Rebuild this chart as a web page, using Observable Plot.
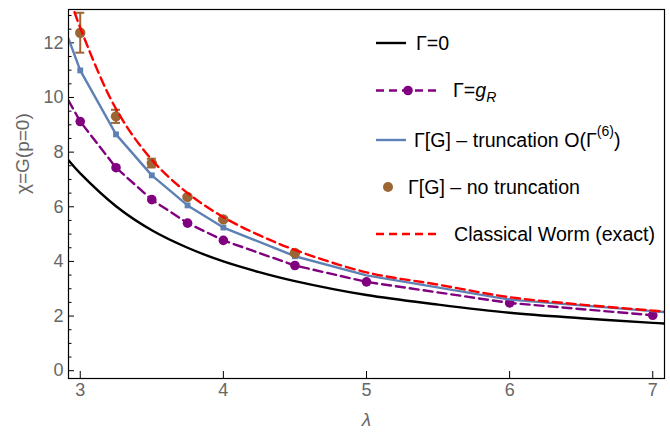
<!DOCTYPE html>
<html><head><meta charset="utf-8">
<script src="https://cdn.jsdelivr.net/npm/d3@7"></script>
<script src="https://cdn.jsdelivr.net/npm/@observablehq/plot@0.6"></script>
<style>
body{margin:0;background:#fff;}
#chart{width:670px;height:439px;}
</style>
</head><body><div id="chart"></div>
<script>
// Γ=0 (black solid)
const lamZero = [2.918, 3, 3.25, 3.5, 3.75, 4, 4.25, 4.5, 5, 5.5, 6, 6.5, 7, 7.082];
const chiZero = [7.70, 7.22, 6.02, 5.14, 4.50, 4.00, 3.61, 3.28, 2.77, 2.42, 2.12, 1.92, 1.75, 1.73];
// Γ=g_R (purple dashed, dots)
const lamGR = [2.918, 3, 3.25, 3.5, 3.75, 4, 4.5, 5, 6, 7];
const chiGR = [9.89, 9.12, 7.43, 6.26, 5.40, 4.77, 3.85, 3.25, 2.48, 2.03];
// Γ[G] truncation O(Γ^(6)) (blue)
const lamTrunc = [2.918, 3, 3.25, 3.5, 3.75, 4, 4.5, 5, 6, 7, 7.082];
const chiTrunc = [12.15, 10.99, 8.65, 7.15, 6.05, 5.24, 4.19, 3.49, 2.60, 2.18, 2.15];
const lamTruncMarks = [3, 3.25, 3.5, 3.75, 4, 4.5];
// Γ[G] no truncation (brown, with error bars)
const lamFull = [3, 3.25, 3.5, 3.75, 4, 4.5];
const chiFull = [12.37, 9.31, 7.60, 6.36, 5.54, 4.31];
const errFull = [0.73, 0.24, 0.16, 0.05, 0.05, 0.04];
// Classical worm (exact) (red dashed)
const lamWorm = [2.93, 3, 3.25, 3.5, 3.75, 4, 4.25, 4.5, 5, 5.5, 6, 6.5, 7, 7.082];
const chiWorm = [13.6, 12.55, 9.58, 7.72, 6.50, 5.62, 4.96, 4.42, 3.60, 3.15, 2.69, 2.42, 2.20, 2.16];

const xTicks = [3, 4, 5, 6, 7];
const yTicks = [0, 2, 4, 6, 8, 10, 12];
const yMinor = d3.range(0, 13.01, 0.5).filter(v => v % 2 !== 0);

const legendLabels = ["Γ=0", "Γ=g_R", "Γ[G] – truncation O(Γ^(6))", "Γ[G] – no truncation", "Classical Worm (exact)"];

const BLACK = "#000000", PURPLE = "#800080", BLUE = "#5E81B5", BROWN = "#9C6634", RED = "#FF0000", GRAY = "#666666";

const zip = (xs, ys) => xs.map((x, i) => ({x, y: ys[i]}));
const zero = zip(lamZero, chiZero);
const gr = zip(lamGR, chiGR);
const grDots = gr.slice(1);
const trunc = zip(lamTrunc, chiTrunc);
const truncMarks = trunc.filter(d => lamTruncMarks.includes(d.x));
const full = lamFull.map((x, i) => ({x, y: chiFull[i], lo: chiFull[i] - errFull[i], hi: chiFull[i] + errFull[i]}));
const worm = zip(lamWorm, chiWorm);

const W = 670, H = 439, mL = 68, mR = 6, mT = 9, mB = 61;
const fw = W - mL - mR, fh = H - mT - mB;
const xDom = [2.918, 7.082], yDom = [-0.285, 13.22];
const pxX = (xDom[1] - xDom[0]) / fw;   // data units per pixel (x)
const pxY = (yDom[1] - yDom[0]) / fh;   // data units per pixel (y)
const capHalf = 4.5 * pxX;

const svg = Plot.plot({
  width: W, height: H,
  marginLeft: mL, marginRight: mR, marginTop: mT, marginBottom: mB,
  style: {fontFamily: "Liberation Sans, Arial, sans-serif", background: "#fff", overflow: "visible"},
  x: {domain: xDom},
  y: {domain: yDom},
  marks: [
    Plot.axisY({ticks: yTicks, tickSize: 0, tickPadding: 5, fontSize: 18, color: GRAY, label: null, tickFormat: d3.format("d")}),
    Plot.axisX({ticks: xTicks, tickSize: 0, tickPadding: 5, fontSize: 18, color: GRAY, label: null, tickFormat: d3.format("d")}),
    Plot.ruleY(yTicks, {y: d => d, x1: xDom[0], x2: xDom[0] + 6 * pxX, stroke: BLACK, strokeWidth: 1}),
    Plot.ruleY(yMinor, {y: d => d, x1: xDom[0], x2: xDom[0] + 3.5 * pxX, stroke: BLACK, strokeWidth: 1}),
    Plot.ruleX(xTicks, {x: d => d, y1: yDom[0], y2: yDom[0] + 7 * pxY, stroke: BLACK, strokeWidth: 1}),
    Plot.line(zero, {x: "x", y: "y", stroke: BLACK, strokeWidth: 2.4, curve: "catmull-rom", clip: true}),
    Plot.line(gr, {x: "x", y: "y", stroke: PURPLE, strokeWidth: 2.4, strokeDasharray: "9,5", clip: true}),
    Plot.dot(grDots, {x: "x", y: "y", r: 4.8, fill: PURPLE, stroke: "none"}),
    Plot.line(trunc, {x: "x", y: "y", stroke: BLUE, strokeWidth: 2.4, clip: true}),
    Plot.dot(truncMarks, {x: "x", y: "y", symbol: "square", r: 3.3, fill: BLUE, stroke: "none"}),
    Plot.ruleX(full, {x: "x", y1: "lo", y2: "hi", stroke: BROWN, strokeWidth: 2, clip: true}),
    Plot.ruleY(full, {y: "hi", x1: d => d.x - capHalf, x2: d => d.x + capHalf, stroke: BROWN, strokeWidth: 2}),
    Plot.ruleY(full, {y: "lo", x1: d => d.x - capHalf, x2: d => d.x + capHalf, stroke: BROWN, strokeWidth: 2}),
    Plot.dot(full, {x: "x", y: "y", r: 5.2, fill: BROWN, stroke: "none"}),
    Plot.line(worm, {x: "x", y: "y", stroke: RED, strokeWidth: 2.4, strokeDasharray: "9,5", curve: "catmull-rom", clip: true}),
    Plot.frame({stroke: BLACK, strokeWidth: 1.2}),
    Plot.text(["λ"], {text: d => d, frameAnchor: "bottom", dy: 47, fontSize: 19, fontStyle: "italic", fill: GRAY}),
    Plot.text(["χ=G(p=0)"], {text: d => d, frameAnchor: "left", dx: -46, rotate: -90, fontSize: 19, fill: GRAY})
  ]
});
document.getElementById("chart").appendChild(svg);

// Legend
const lg = d3.select(svg).append("g")
  .attr("font-family", "Liberation Sans, Arial, sans-serif")
  .attr("text-anchor", "start")
  .attr("font-size", 19.6).attr("fill", "#000");
const rowsY = [43, 90.5, 140, 187, 234];
const lx0 = 376, lxShort = 406, lxLong = 437;
// row 1
lg.append("line").attr("x1", lx0).attr("x2", lxShort).attr("y1", rowsY[0]).attr("y2", rowsY[0]).attr("stroke", BLACK).attr("stroke-width", 2.4);
lg.append("text").attr("x", 416).attr("y", rowsY[0]).attr("dy", "0.35em").text(legendLabels[0]);
// row 2
lg.append("line").attr("x1", lx0).attr("x2", lxLong).attr("y1", rowsY[1]).attr("y2", rowsY[1]).attr("stroke", PURPLE).attr("stroke-width", 2.4).attr("stroke-dasharray", "8,5");
lg.append("circle").attr("cx", 408).attr("cy", rowsY[1]).attr("r", 4.8).attr("fill", PURPLE);
const t2 = lg.append("text").attr("x", 453).attr("y", rowsY[1]).attr("dy", "0.35em");
t2.append("tspan").text("Γ=");
t2.append("tspan").attr("font-style", "italic").text("g");
t2.append("tspan").attr("font-style", "italic").attr("font-size", 14).attr("dy", "0.3em").text("R");
// row 3
lg.append("line").attr("x1", lx0).attr("x2", lxShort).attr("y1", rowsY[2]).attr("y2", rowsY[2]).attr("stroke", BLUE).attr("stroke-width", 2.4);
const t3 = lg.append("text").attr("x", 414).attr("y", rowsY[2]).attr("dy", "0.35em");
t3.append("tspan").text("Γ[G] – truncation O(Γ");
t3.append("tspan").attr("font-size", 14).attr("dy", "-0.75em").text("(6)");
t3.append("tspan").attr("dy", "0.55em").text(")");
// row 4
lg.append("circle").attr("cx", 388).attr("cy", rowsY[3]).attr("r", 5).attr("fill", BROWN);
lg.append("text").attr("x", 408).attr("y", rowsY[3]).attr("dy", "0.35em").text(legendLabels[3]);
// row 5
lg.append("line").attr("x1", lx0).attr("x2", lxLong).attr("y1", rowsY[4]).attr("y2", rowsY[4]).attr("stroke", RED).attr("stroke-width", 2.4).attr("stroke-dasharray", "8,5");
lg.append("text").attr("x", 454).attr("y", rowsY[4]).attr("dy", "0.35em").text(legendLabels[4]);
</script>
</body></html>
